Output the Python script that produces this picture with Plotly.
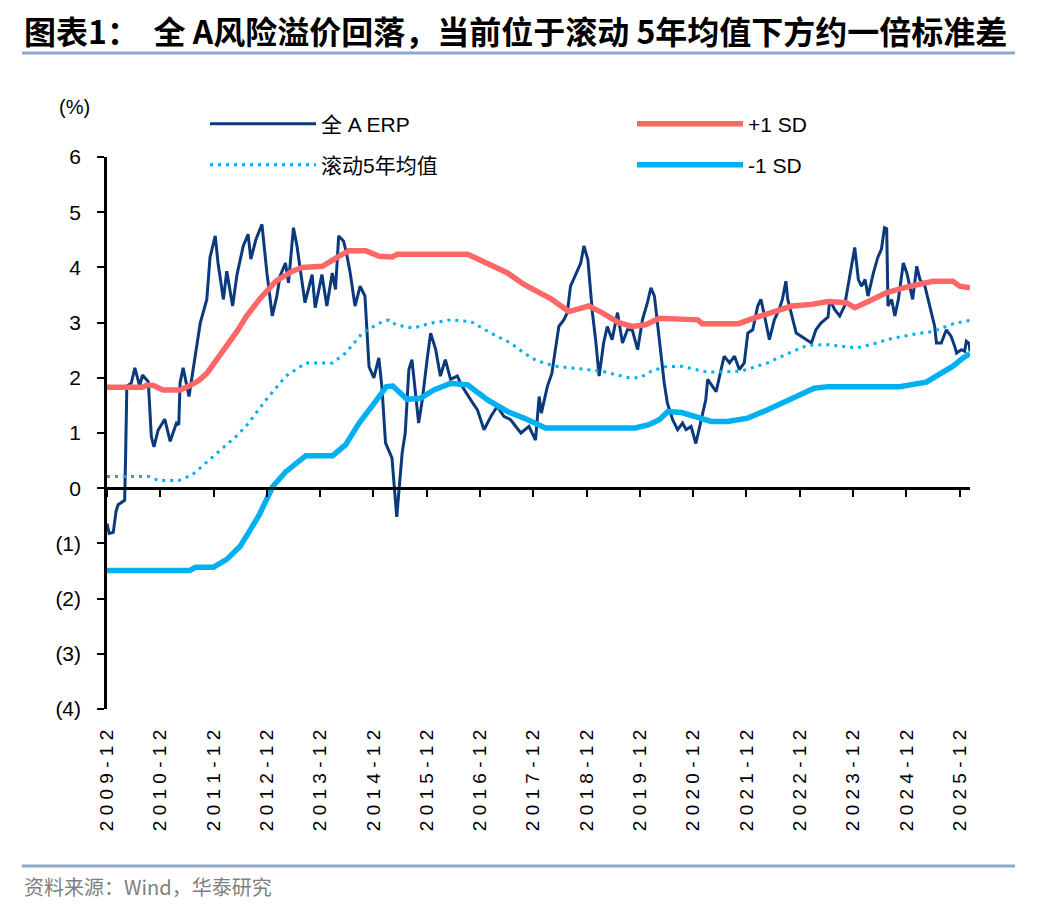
import plotly.graph_objects as go

# ---------------- data ----------------
erp_dates = [
    "2009-12-01", "2009-12-16", "2010-01-13", "2010-02-01", "2010-02-15", "2010-03-16", "2010-04-01", "2010-04-07",
    "2010-04-16", "2010-05-16", "2010-06-10", "2010-07-13", "2010-08-01", "2010-09-10", "2010-10-01", "2010-10-19",
    "2010-11-16", "2011-01-01", "2011-02-07", "2011-03-22", "2011-04-07", "2011-04-16", "2011-05-07", "2011-06-16",
    "2011-08-07", "2011-09-01", "2011-10-16", "2011-11-07", "2011-12-13", "2012-01-01", "2012-02-07", "2012-03-01",
    "2012-04-10", "2012-05-10", "2012-06-22", "2012-07-25", "2012-08-13", "2012-09-16", "2012-10-28", "2012-12-01",
    "2013-01-07", "2013-02-07", "2013-03-01", "2013-04-07", "2013-04-28", "2013-06-01", "2013-06-25", "2013-07-28",
    "2013-08-19", "2013-10-07", "2013-10-28", "2013-12-13", "2014-01-16", "2014-02-22", "2014-03-16", "2014-04-07",
    "2014-05-10", "2014-06-01", "2014-06-25", "2014-07-28", "2014-09-01", "2014-10-04", "2014-11-01", "2014-12-04",
    "2015-01-07", "2015-01-28", "2015-02-22", "2015-04-07", "2015-05-10", "2015-06-16", "2015-07-07", "2015-08-01",
    "2015-08-22", "2015-10-07", "2015-11-01", "2015-12-04", "2015-12-28", "2016-02-01", "2016-03-04", "2016-04-07",
    "2016-05-13", "2016-06-28", "2016-08-01", "2016-09-28", "2016-11-13", "2016-12-28", "2017-02-13", "2017-03-28",
    "2017-05-13", "2017-06-28", "2017-09-07", "2017-11-01", "2017-12-16", "2018-01-10", "2018-01-25", "2018-03-07",
    "2018-04-07", "2018-05-01", "2018-05-25", "2018-06-28", "2018-07-22", "2018-08-13", "2018-09-16", "2018-10-22",
    "2018-11-13", "2018-12-10", "2019-01-10", "2019-02-01", "2019-02-25", "2019-03-28", "2019-04-22", "2019-05-25",
    "2019-07-01", "2019-08-04", "2019-09-07", "2019-10-10", "2019-11-16", "2019-12-19", "2020-01-22", "2020-02-15",
    "2020-03-10", "2020-04-13", "2020-05-16", "2020-06-07", "2020-07-13", "2020-08-16", "2020-09-19", "2020-10-13",
    "2020-11-16", "2020-12-19", "2021-01-13", "2021-02-04", "2021-02-25", "2021-03-10", "2021-04-13", "2021-05-07",
    "2021-06-10", "2021-07-01", "2021-08-07", "2021-09-10", "2021-10-13", "2021-11-16", "2021-12-10", "2022-01-13",
    "2022-02-16", "2022-03-10", "2022-04-04", "2022-05-07", "2022-06-10", "2022-07-13", "2022-08-04", "2022-08-28",
    "2022-09-10", "2022-10-04", "2022-11-07", "2022-12-13", "2023-01-16", "2023-02-19", "2023-03-22", "2023-04-25",
    "2023-06-13", "2023-06-25", "2023-07-28", "2023-09-01", "2023-10-04", "2023-10-28", "2023-11-22", "2023-12-13",
    "2024-01-07", "2024-01-28", "2024-02-22", "2024-03-13", "2024-04-19", "2024-05-19", "2024-06-13", "2024-07-04",
    "2024-07-19", "2024-07-28", "2024-08-22", "2024-09-13", "2024-10-07", "2024-11-10", "2024-12-04", "2024-12-25",
    "2025-01-13", "2025-02-10", "2025-03-04", "2025-04-07", "2025-04-28", "2025-05-22", "2025-06-13", "2025-06-25",
    "2025-07-28", "2025-09-01", "2025-10-04", "2025-10-28", "2025-11-10", "2025-12-13", "2026-01-04", "2026-01-16",
    "2026-02-04", "2026-02-10",
]
erp_values = [
    -0.64, -0.82, -0.80, -0.42, -0.30, -0.25, -0.22, 0.50,
    1.85, 1.90, 2.18, 1.85, 2.05, 1.93, 0.93, 0.75,
    1.05, 1.25, 0.85, 1.18, 1.15, 1.91, 2.18, 1.66,
    2.51, 2.99, 3.42, 4.18, 4.57, 4.08, 3.42, 3.93,
    3.30, 3.87, 4.39, 4.60, 4.15, 4.50, 4.78, 3.90,
    3.12, 3.48, 3.84, 4.08, 3.72, 4.72, 4.39, 3.72,
    3.36, 3.87, 3.27, 3.87, 3.30, 3.90, 3.60, 4.57,
    4.48, 4.24, 3.90, 3.30, 3.66, 3.48, 2.20, 2.00,
    2.36, 1.84, 0.82, 0.55, -0.52, 0.64, 1.00, 2.15,
    2.33, 1.18, 1.60, 2.33, 2.81, 2.51, 2.03, 2.33,
    1.97, 2.03, 1.84, 1.60, 1.42, 1.06, 1.30, 1.48,
    1.30, 1.24, 1.00, 1.12, 0.87, 1.66, 1.36, 1.84,
    2.08, 2.51, 2.93, 3.05, 3.18, 3.66, 3.87, 4.08,
    4.39, 4.14, 3.18, 2.69, 2.03, 2.63, 2.93, 2.69,
    3.18, 2.63, 2.87, 2.87, 2.51, 3.05, 3.36, 3.63,
    3.48, 2.63, 1.91, 1.54, 1.24, 1.06, 1.18, 1.06,
    1.12, 0.81, 1.12, 1.36, 1.60, 1.97, 1.84, 1.75,
    2.15, 2.39, 2.27, 2.39, 2.15, 2.27, 2.81, 2.87,
    3.30, 3.42, 3.12, 2.69, 3.05, 3.24, 3.42, 3.75,
    3.42, 3.18, 2.81, 2.75, 2.69, 2.63, 2.87, 2.99,
    3.10, 3.42, 3.24, 3.12, 3.30, 3.66, 4.02, 4.36,
    3.78, 3.66, 3.78, 3.48, 3.90, 4.18, 4.33, 4.72,
    4.70, 3.30, 3.42, 3.12, 3.42, 4.08, 3.90, 3.66,
    3.42, 4.02, 3.78, 3.66, 3.42, 3.18, 2.93, 2.63,
    2.63, 2.87, 2.75, 2.57, 2.45, 2.51, 2.48, 2.66,
    2.62, 2.48,
]

upper_dates = [
    "2009-12-01", "2010-08-01", "2010-09-01", "2010-10-16", "2010-12-19", "2011-04-16", "2011-06-16", "2011-08-22",
    "2011-10-16", "2012-01-19", "2012-05-10", "2012-07-10", "2012-10-10", "2013-02-01", "2013-05-25", "2013-08-01",
    "2013-12-16", "2014-04-07", "2014-06-16", "2014-10-10", "2015-01-10", "2015-04-10", "2015-05-13", "2016-09-07",
    "2016-11-16", "2017-02-13", "2017-06-07", "2017-09-28", "2017-12-22", "2018-04-07", "2018-08-01", "2018-10-01",
    "2018-12-16", "2019-03-16", "2019-07-10", "2019-10-10", "2020-01-10", "2020-04-13", "2020-10-10", "2021-01-01",
    "2021-02-01", "2021-10-07", "2022-02-01", "2022-05-22", "2022-10-07", "2023-02-22", "2023-06-13", "2023-10-16",
    "2023-12-13", "2024-03-22", "2024-07-16", "2024-11-10", "2025-03-25", "2025-06-01", "2025-10-16", "2025-12-01",
    "2026-02-10",
]
upper_values = [
    1.83, 1.83, 1.87, 1.86, 1.78, 1.78, 1.85, 1.95,
    2.08, 2.42, 2.84, 3.10, 3.42, 3.75, 3.93, 4.00,
    4.02, 4.20, 4.30, 4.30, 4.20, 4.19, 4.24, 4.24,
    4.15, 4.05, 3.90, 3.69, 3.56, 3.42, 3.20, 3.24,
    3.30, 3.18, 3.00, 2.93, 2.96, 3.08, 3.05, 3.05,
    2.98, 2.98, 3.09, 3.18, 3.30, 3.33, 3.38, 3.36,
    3.27, 3.39, 3.54, 3.63, 3.72, 3.75, 3.75, 3.66,
    3.63,
]

mean_dates = [
    "2009-12-01", "2010-09-16", "2010-11-16", "2011-04-07", "2011-07-07", "2011-10-07", "2012-02-01", "2012-05-01",
    "2012-07-19", "2012-11-25", "2013-04-10", "2013-08-25", "2014-02-25", "2014-05-25", "2014-09-16", "2015-01-10",
    "2015-03-19", "2015-05-04", "2015-09-01", "2015-12-28", "2016-05-13", "2016-09-28", "2017-02-13", "2017-06-28",
    "2017-09-28", "2017-12-22", "2018-05-01", "2018-11-25", "2019-03-16", "2019-09-16", "2019-12-01", "2020-02-19",
    "2020-05-19", "2020-09-10", "2021-03-10", "2021-10-25", "2022-04-25", "2022-09-10", "2023-01-25", "2023-06-13",
    "2023-12-25", "2024-05-10", "2024-08-04", "2025-01-19", "2025-06-04", "2025-10-19", "2026-02-10",
]
mean_values = [
    0.21, 0.21, 0.14, 0.14, 0.24, 0.45, 0.72, 0.93,
    1.15, 1.60, 2.03, 2.27, 2.27, 2.45, 2.81, 2.99,
    3.05, 2.96, 2.90, 2.99, 3.05, 3.02, 2.81, 2.63,
    2.45, 2.31, 2.21, 2.16, 2.12, 2.00, 2.00, 2.12,
    2.20, 2.21, 2.10, 2.12, 2.27, 2.44, 2.59, 2.60,
    2.54, 2.63, 2.70, 2.79, 2.84, 2.98, 3.04,
]

lower_dates = [
    "2009-12-01", "2011-06-22", "2011-08-01", "2011-12-01", "2012-03-01", "2012-06-01", "2012-08-10", "2012-10-10",
    "2013-01-10", "2013-04-10", "2013-08-25", "2014-02-25", "2014-05-25", "2014-08-25", "2014-11-28", "2015-02-28",
    "2015-04-13", "2015-07-19", "2015-10-19", "2016-01-19", "2016-05-13", "2016-09-07", "2017-01-22", "2017-06-07",
    "2017-09-28", "2017-12-22", "2018-02-22", "2019-11-01", "2020-02-01", "2020-04-13", "2020-06-10", "2020-09-13",
    "2020-12-10", "2021-04-04", "2021-07-25", "2021-12-10", "2022-04-25", "2022-08-19", "2022-12-10", "2023-03-10",
    "2023-06-16", "2024-10-16", "2025-04-16", "2025-07-16", "2025-10-16", "2025-12-25", "2026-02-10",
]
lower_values = [
    -1.49, -1.49, -1.43, -1.43, -1.29, -1.05, -0.75, -0.48,
    0.03, 0.30, 0.59, 0.59, 0.79, 1.18, 1.51, 1.84,
    1.85, 1.61, 1.63, 1.78, 1.90, 1.87, 1.60, 1.39,
    1.27, 1.15, 1.09, 1.09, 1.15, 1.24, 1.39, 1.37,
    1.30, 1.21, 1.21, 1.27, 1.42, 1.57, 1.72, 1.81,
    1.84, 1.84, 1.92, 2.06, 2.21, 2.36, 2.44,
]

x_tick_dates = [f"{y}-12-01" for y in range(2009, 2026)]
x_tick_labels = [f"{y}-12" for y in range(2009, 2026)]
y_tick_values = [-4, -3, -2, -1, 0, 1, 2, 3, 4, 5, 6]
y_tick_labels = ["(4)", "(3)", "(2)", "(1)", "0", "1", "2", "3", "4", "5", "6"]

series_names = ["全 A ERP", "+1 SD", "滚动5年均值", "-1 SD"]
title_text = "图表1：  全 A风险溢价回落，当前位于滚动 5年均值下方约一倍标准差"
source_text = "资料来源：Wind，华泰研究"
unit_text = "(%)"

# ---------------- style ----------------
NAVY = "#0B3A7C"
RED = "#FF6666"
LBLUE = "#00B0F0"
RULE = "#8EA9C8"
W, H = 1048, 912
L, R, T, B = 107, 78, 157, 203
PW, PH = W - L - R, H - T - B
LATIN = "Liberation Sans, Arial, Noto Sans CJK SC"
CJK = "Noto Sans CJK SC, Liberation Sans"


def fx(px):
    return (px - L) / PW


def fy(py):
    return (H - B - py) / PH


x_range = [erp_dates[0], erp_dates[-1]]

fig = go.Figure()
fig.add_trace(go.Scatter(x=erp_dates, y=erp_values, name=series_names[0], mode="lines",
                         line=dict(color=NAVY, width=3), legend="legend"))
fig.add_trace(go.Scatter(x=upper_dates, y=upper_values, name=series_names[1], mode="lines",
                         line=dict(color=RED, width=5.5), legend="legend2", xaxis="x2"))
fig.add_trace(go.Scatter(x=mean_dates, y=mean_values, name=series_names[2], mode="lines",
                         line=dict(color=LBLUE, width=3, dash="3px,5px"), legend="legend3"))
fig.add_trace(go.Scatter(x=lower_dates, y=lower_values, name=series_names[3], mode="lines",
                         line=dict(color=LBLUE, width=5.5), legend="legend4"))

legend_common = dict(orientation="v", xanchor="left", yanchor="middle", itemwidth=106,
                     bgcolor="rgba(0,0,0,0)", borderwidth=0,
                     font=dict(family=LATIN, size=21, color="#000000"), itemclick=False)

LEG_X1, LEG_X2 = 205, 632
LEG_Y1, LEG_Y2 = 124, 165

fig.update_layout(
    width=W, height=H,
    margin=dict(l=L, r=R, t=T, b=B, pad=0),
    paper_bgcolor="white", plot_bgcolor="white",
    showlegend=True,
    legend=dict(x=fx(LEG_X1), y=fy(LEG_Y1), **legend_common),
    legend2=dict(x=fx(LEG_X2), y=fy(LEG_Y1), **legend_common),
    legend3=dict(x=fx(LEG_X1), y=fy(LEG_Y2), **legend_common),
    legend4=dict(x=fx(LEG_X2), y=fy(LEG_Y2), **legend_common),
    xaxis=dict(type="date", range=x_range, tickmode="array", tickvals=x_tick_dates,
               ticktext=[" ".join(lbl) for lbl in x_tick_labels], tickangle=-90,
               showline=False, showgrid=False, zeroline=False, ticks="",
               ticklabelstandoff=16, tickfont=dict(family=LATIN, size=19, color="#000000")),
    xaxis2=dict(type="date", range=x_range, overlaying="x", anchor="free", position=fy(488),
                side="bottom", tickmode="array", tickvals=x_tick_dates, showticklabels=False,
                showline=True, linecolor="#000000", linewidth=2.5, ticks="outside", ticklen=7,
                tickwidth=2, tickcolor="#000000", showgrid=False, zeroline=False),
    yaxis=dict(range=[-4, 6], tickmode="array", tickvals=y_tick_values, ticktext=y_tick_labels,
               showline=True, linecolor="#000000", linewidth=2.5, ticks="outside", ticklen=7,
               tickwidth=2, tickcolor="#000000", showgrid=False, zeroline=False,
               ticklabelstandoff=12, tickfont=dict(family=LATIN, size=21, color="#000000")),
    font=dict(family=LATIN, color="#000000"),
)

fig.add_annotation(text=f"<b>{title_text}</b>", xref="paper", yref="paper", x=fx(22), y=fy(30),
                   xanchor="left", yanchor="middle", showarrow=False,
                   font=dict(family=CJK, size=32, color="#000000"))
fig.add_annotation(text=unit_text, xref="paper", yref="paper", x=fx(74), y=fy(107),
                   xanchor="center", yanchor="middle", showarrow=False,
                   font=dict(family=LATIN, size=20, color="#000000"))
fig.add_annotation(text=source_text, xref="paper", yref="paper", x=fx(22), y=fy(887),
                   xanchor="left", yanchor="middle", showarrow=False,
                   font=dict(family=CJK, size=20, color="#7F7F7F"))

for py in (53, 866):
    fig.add_shape(type="line", xref="paper", yref="paper", x0=fx(22), x1=fx(1015), y0=fy(py), y1=fy(py),
                  line=dict(color=RULE, width=3))

fig.write_html("out.html")
